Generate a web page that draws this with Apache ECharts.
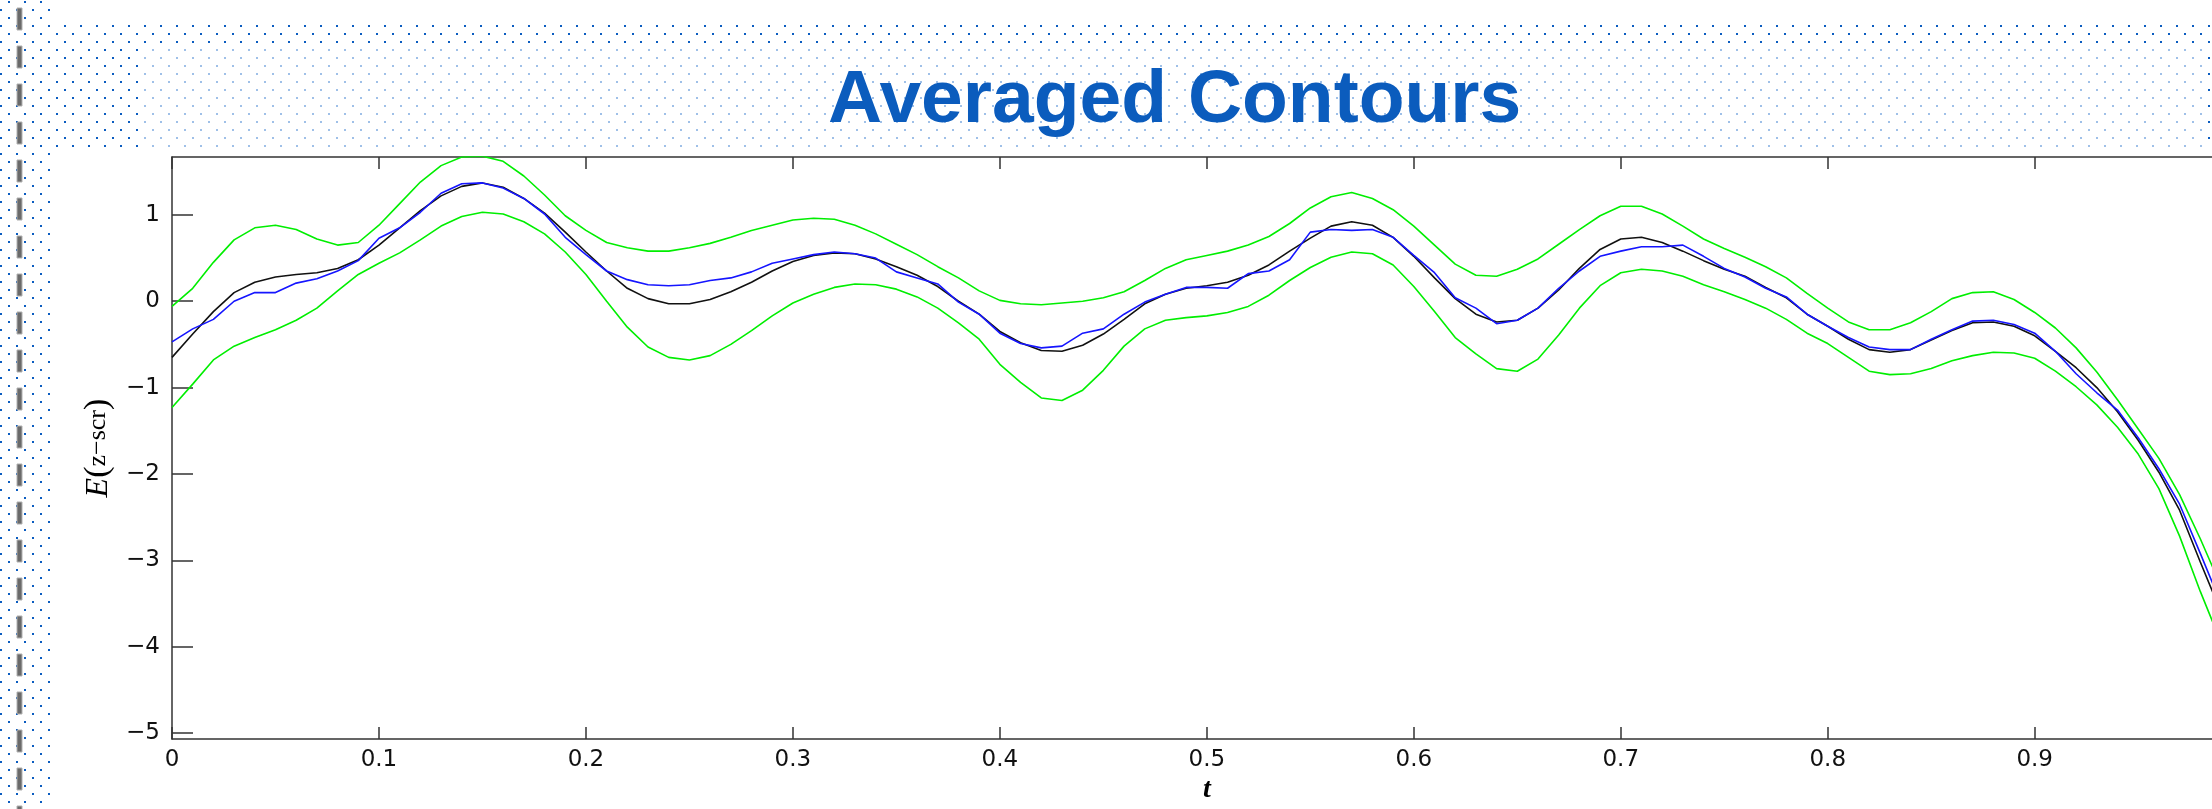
<!DOCTYPE html>
<html><head><meta charset="utf-8">
<script src="https://cdn.jsdelivr.net/npm/echarts@6/dist/echarts.min.js"></script>
<style>html,body{margin:0;padding:0;background:#fff;overflow:hidden;width:2212px;height:809px}#c{width:2252px;height:809px}</style>
</head><body><div id="c"></div>
<script>
const chartTitle = 'Averaged Contours';
const tValues = [0,0.01,0.02,0.03,0.04,0.05,0.06,0.07,0.08,0.09,
0.1,0.11,0.12,0.13,0.14,0.15,0.16,0.17,0.18,0.19,
0.2,0.21,0.22,0.23,0.24,0.25,0.26,0.27,0.28,0.29,
0.3,0.31,0.32,0.33,0.34,0.35,0.36,0.37,0.38,0.39,
0.4,0.41,0.42,0.43,0.44,0.45,0.46,0.47,0.48,0.49,
0.5,0.51,0.52,0.53,0.54,0.55,0.56,0.57,0.58,0.59,
0.6,0.61,0.62,0.63,0.64,0.65,0.66,0.67,0.68,0.69,
0.7,0.71,0.72,0.73,0.74,0.75,0.76,0.77,0.78,0.79,
0.8,0.81,0.82,0.83,0.84,0.85,0.86,0.87,0.88,0.89,
0.9,0.91,0.92,0.93,0.94,0.95,0.96,0.97,0.98,0.99];
const upperBand = [-0.06,0.15,0.45,0.71,0.85,0.88,0.83,0.72,0.65,0.68,
0.88,1.13,1.38,1.57,1.67,1.68,1.62,1.45,1.23,0.99,
0.82,0.68,0.62,0.58,0.58,0.62,0.67,0.74,0.82,0.88,
0.94,0.96,0.95,0.88,0.78,0.66,0.54,0.40,0.27,0.12,
0.01,-0.03,-0.04,-0.02,0.00,0.04,0.11,0.24,0.38,0.48,
0.53,0.58,0.65,0.75,0.90,1.08,1.21,1.26,1.19,1.06,
0.87,0.65,0.43,0.30,0.29,0.37,0.49,0.66,0.83,0.99,
1.10,1.10,1.01,0.87,0.72,0.61,0.51,0.40,0.27,0.09,
-0.08,-0.24,-0.33,-0.33,-0.25,-0.12,0.03,0.10,0.11,0.02,
-0.13,-0.31,-0.54,-0.82,-1.14,-1.48,-1.82,-2.24,-2.75,-3.30];
const lowerBand = [-1.23,-0.96,-0.68,-0.52,-0.42,-0.33,-0.22,-0.08,0.12,0.31,
0.44,0.56,0.71,0.87,0.98,1.03,1.01,0.92,0.78,0.57,
0.31,0.00,-0.30,-0.53,-0.65,-0.68,-0.63,-0.50,-0.34,-0.17,
-0.02,0.08,0.16,0.20,0.19,0.14,0.05,-0.08,-0.25,-0.44,
-0.73,-0.94,-1.12,-1.15,-1.03,-0.80,-0.52,-0.32,-0.22,-0.19,
-0.17,-0.13,-0.06,0.07,0.24,0.39,0.51,0.57,0.55,0.42,
0.17,-0.12,-0.42,-0.61,-0.78,-0.81,-0.67,-0.39,-0.08,0.18,
0.33,0.37,0.35,0.29,0.19,0.11,0.02,-0.08,-0.21,-0.37,
-0.49,-0.65,-0.81,-0.85,-0.84,-0.78,-0.69,-0.63,-0.59,-0.60,
-0.66,-0.81,-0.99,-1.20,-1.46,-1.77,-2.17,-2.72,-3.36,-3.95];
const meanContour = [-0.65,-0.38,-0.12,0.10,0.22,0.28,0.31,0.33,0.38,0.48,
0.65,0.85,1.05,1.22,1.33,1.37,1.32,1.19,1.02,0.80,
0.57,0.35,0.15,0.03,-0.03,-0.03,0.02,0.11,0.22,0.35,
0.46,0.53,0.56,0.55,0.49,0.40,0.30,0.17,0.00,-0.15,
-0.35,-0.48,-0.57,-0.58,-0.51,-0.38,-0.21,-0.03,0.08,0.15,
0.18,0.22,0.30,0.42,0.58,0.73,0.87,0.92,0.88,0.74,
0.52,0.27,0.03,-0.15,-0.24,-0.22,-0.08,0.13,0.38,0.60,
0.72,0.74,0.68,0.58,0.47,0.37,0.29,0.16,0.04,-0.15,
-0.29,-0.44,-0.56,-0.59,-0.56,-0.45,-0.34,-0.25,-0.24,-0.29,
-0.40,-0.58,-0.77,-1.00,-1.28,-1.61,-1.98,-2.42,-3.02,-3.60];
const sampleContour = [-0.47,-0.32,-0.21,0.00,0.10,0.10,0.21,0.26,0.35,0.47,
0.73,0.85,1.03,1.25,1.36,1.37,1.31,1.19,1.01,0.74,
0.54,0.35,0.25,0.19,0.18,0.19,0.24,0.27,0.34,0.44,
0.49,0.54,0.57,0.55,0.50,0.34,0.27,0.20,-0.01,-0.15,
-0.37,-0.49,-0.54,-0.52,-0.37,-0.32,-0.15,-0.01,0.08,0.16,
0.16,0.15,0.32,0.35,0.48,0.80,0.83,0.82,0.83,0.74,
0.53,0.33,0.04,-0.08,-0.26,-0.22,-0.08,0.15,0.35,0.52,
0.58,0.63,0.63,0.65,0.52,0.38,0.28,0.15,0.05,-0.15,
-0.29,-0.42,-0.53,-0.56,-0.56,-0.44,-0.33,-0.23,-0.22,-0.27,
-0.37,-0.58,-0.84,-1.06,-1.26,-1.58,-1.94,-2.35,-2.92,-3.50];

function pairs(ys){ return tValues.map((t,i)=>[t, ys[i]]); }
function dotTile(color){
  const c=document.createElement('canvas'); c.width=16; c.height=16;
  const g=c.getContext('2d'); g.fillStyle=color;
  g.fillRect(8,1,2,2); g.fillRect(0,9,2,2);
  return c;
}
const darkDots = {image: dotTile('#0b5cc0'), repeat:'repeat'};
const lightDots = {image: dotTile('#9fc0e8'), repeat:'repeat'};
const bg = [
  {type:'rect', shape:{x:0,y:0,width:50,height:809}, style:{fill:darkDots}, z:-10, silent:true},
  {type:'rect', shape:{x:0,y:24,width:2212,height:24}, style:{fill:darkDots}, z:-10, silent:true},
  {type:'rect', shape:{x:0,y:48,width:140,height:102}, style:{fill:darkDots}, z:-10, silent:true},
  {type:'rect', shape:{x:140,y:48,width:2064,height:102}, style:{fill:lightDots}, z:-10, silent:true},
  {type:'rect', shape:{x:2204,y:48,width:8,height:102}, style:{fill:darkDots}, z:-10, silent:true}
];
for (let k=0;k<22;k++){
  bg.push({type:'rect', shape:{x:17,y:8+38*k,width:5,height:22}, style:{fill:'#6a6a6a', stroke:'#b0b0b0', lineWidth:1}, z:-9, silent:true});
}
const axisColor = '#333';
const lbl = {fontFamily:'DejaVu Sans', fontSize:23, color:'#111'};
function fmtNum(v){ const s = String(Math.round(v*10)/10); return v<0 ? '\u2212'+s.slice(1) : s; }

const chart = echarts.init(document.getElementById('c'), null, {width:2252, height:809});
chart.setOption({
  animation:false,
  backgroundColor:'#fff',
  title:{text:chartTitle, left:823, top:59, textStyle:{fontFamily:'Liberation Sans', fontWeight:'bold', fontSize:75, color:'#0b5cbd'}},
  graphic: bg,
  grid:{left:172, top:157, right:0, bottom:63, containLabel:false},
  xAxis:[
    {type:'value', min:0, max:1, interval:0.1, position:'bottom',
     axisLine:{show:true, onZero:false, lineStyle:{color:axisColor, width:1.5}},
     axisTick:{show:true, inside:true, length:12, lineStyle:{color:axisColor, width:1.5}},
     axisLabel:Object.assign({margin:9, formatter:fmtNum}, lbl),
     splitLine:{show:false},
     name:'t', nameLocation:'middle', nameGap:24,
     nameTextStyle:{fontFamily:'Liberation Serif', fontStyle:'italic', fontWeight:'bold', fontSize:28, color:'#000'}},
    {type:'value', min:0, max:1, interval:0.1, position:'top',
     axisLine:{show:true, onZero:false, lineStyle:{color:axisColor, width:1.5}},
     axisTick:{show:true, inside:true, length:12, lineStyle:{color:axisColor, width:1.5}},
     axisLabel:{show:false}, splitLine:{show:false}}
  ],
  yAxis:[
    {type:'value', min:-5.07, max:1.67, splitNumber:7,
     axisLine:{show:true, onZero:false, lineStyle:{color:axisColor, width:1.5}},
     axisTick:{show:true, inside:true, length:21, lineStyle:{color:axisColor, width:1.5}},
     axisLabel:Object.assign({margin:12, showMinLabel:false, showMaxLabel:false,
       formatter:v => Math.abs(v-Math.round(v))<1e-6 ? fmtNum(Math.round(v)) : ''}, lbl),
     splitLine:{show:false},
     name:'{e|E}{p|(}{r|z\u2212scr}{p|)}', nameLocation:'middle', nameGap:56,
     nameTextStyle:{color:'#000', fontFamily:'Liberation Serif', fontSize:30, rich:{
       e:{fontFamily:'Liberation Serif', fontStyle:'italic', fontSize:32, color:'#000'},
       p:{fontFamily:'Liberation Serif', fontSize:34, color:'#000'},
       r:{fontFamily:'Liberation Serif', fontSize:26, color:'#000'}}}}
  ],
  series:[
    {name:'upper', type:'line', data:pairs(upperBand), showSymbol:false, lineStyle:{color:'#00ee00', width:1.6}, z:2},
    {name:'lower', type:'line', data:pairs(lowerBand), showSymbol:false, lineStyle:{color:'#00ee00', width:1.6}, z:2},
    {name:'mean', type:'line', data:pairs(meanContour), showSymbol:false, lineStyle:{color:'#111', width:1.6}, z:3},
    {name:'sample', type:'line', data:pairs(sampleContour), showSymbol:false, lineStyle:{color:'#1515ff', width:1.6}, z:4}
  ]
});
</script></body></html>
